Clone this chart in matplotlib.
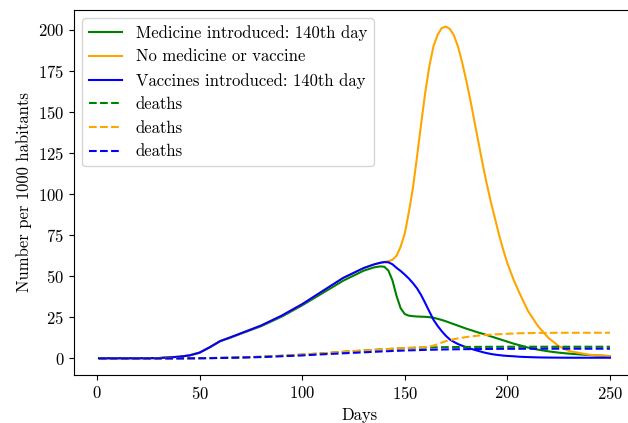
import matplotlib
matplotlib.use("Agg")
import matplotlib.pyplot as plt

plt.rcParams['font.family'] = 'cmr10'
plt.rcParams['mathtext.fontset'] = 'cm'
plt.rcParams['axes.formatter.use_mathtext'] = True
plt.rcParams['font.size'] = 12

days = [1, 10, 20, 30, 40, 45, 50, 55, 60, 65, 70, 80, 90, 100, 110, 120, 130,
        135, 138, 140, 142, 144, 146, 148, 150, 152, 154, 156, 158, 160, 162,
        164, 166, 168, 170, 172, 174, 176, 178, 180, 182, 184, 186, 188, 190,
        192, 194, 196, 198, 200, 203, 206, 210, 215, 220, 225, 230, 240, 250]

# infected, no medicine / vaccine
no_med = [0.1, 0.1, 0.1, 0.2, 1.0, 1.8, 3.5, 6.8, 10.5, 12.8, 15.2, 20, 26, 33,
          41, 49, 55, 57.2, 58.2, 58.7, 59.2, 60, 62.5, 68, 76, 89, 104, 123,
          143, 162, 178, 190, 197, 201, 202, 200.5, 196.5, 189.5, 180, 169,
          157, 144, 131, 118, 106, 95, 85, 75, 66, 58, 48, 39.5, 29, 19.5,
          12.5, 7.5, 4.5, 2.2, 1.4]

# infected, medicine from day 140
medicine = [0.1, 0.1, 0.1, 0.2, 1.0, 1.8, 3.5, 6.8, 10.5, 12.6, 15.0, 19.6,
            25.4, 32.3, 39.8, 47.3, 53.4, 55.4, 56.0, 55.8, 53.5, 47.5, 38,
            30.5, 27, 26, 25.7, 25.5, 25.4, 25.3, 25.1, 24.7, 24.1, 23.4, 22.6,
            21.7, 20.8, 19.9, 19.0, 18.1, 17.3, 16.5, 15.7, 15.0, 14.2, 13.4,
            12.6, 11.8, 11.0, 10.2, 9.0, 8.0, 6.6, 5.3, 4.3, 3.5, 2.9, 2.0, 1.4]

# infected, vaccines from day 140
vaccine = [0.1, 0.1, 0.1, 0.2, 1.0, 1.8, 3.5, 6.8, 10.5, 12.8, 15.2, 20, 26,
           33, 41, 49, 55, 57.2, 58.2, 58.6, 58.5, 57.3, 55.1, 53.2, 51.0,
           48.6, 45.8, 42.6, 38.5, 33.6, 28.5, 23.5, 19.8, 16.6, 13.8, 11.5,
           10.0, 8.7, 7.7, 6.8, 6.0, 5.2, 4.5, 3.8, 3.2, 2.7, 2.3, 2.0, 1.7,
           1.5, 1.3, 1.0, 0.8, 0.6, 0.5, 0.45, 0.4, 0.4, 0.4]

deaths_med = [0, 0, 0, 0, 0, 0.05, 0.1, 0.2, 0.3, 0.45, 0.6, 1.0, 1.6, 2.3,
              3.1, 4.0, 4.8, 5.2, 5.4, 5.6, 5.7, 5.8, 5.9, 6.1, 6.3, 6.35, 6.4,
              6.5, 6.55, 6.6, 6.65, 6.7, 6.75, 6.8, 6.85, 6.88, 6.9, 6.93, 6.95,
              6.97, 7.0, 7.0, 7.02, 7.04, 7.05, 7.06, 7.07, 7.08, 7.09, 7.1,
              7.1, 7.1, 7.1, 7.1, 7.1, 7.1, 7.1, 7.1, 7.1]

deaths_none = [0, 0, 0, 0, 0, 0.05, 0.1, 0.2, 0.3, 0.45, 0.6, 1.0, 1.6, 2.3,
               3.1, 4.0, 4.8, 5.2, 5.4, 5.6, 5.7, 5.9, 6.0, 6.2, 6.3, 6.4,
               6.5, 6.6, 6.7, 6.8, 7.2, 7.8, 8.6, 9.6, 10.5, 11.2, 11.7, 12.2,
               12.6, 13.0, 13.3, 13.6, 13.9, 14.1, 14.3, 14.45, 14.6, 14.7,
               14.85, 15.0, 15.15, 15.3, 15.4, 15.5, 15.55, 15.6, 15.6, 15.6,
               15.6]

deaths_vac = [0, 0, 0, 0, 0, 0.04, 0.08, 0.15, 0.25, 0.35, 0.5, 0.8, 1.3, 1.8,
              2.5, 3.1, 3.7, 4.0, 4.2, 4.3, 4.4, 4.5, 4.6, 4.7, 4.8, 4.9, 4.95,
              5.0, 5.1, 5.2, 5.25, 5.3, 5.35, 5.4, 5.45, 5.5, 5.53, 5.56, 5.6,
              5.63, 5.66, 5.7, 5.72, 5.74, 5.76, 5.78, 5.8, 5.82, 5.84, 5.85,
              5.86, 5.87, 5.88, 5.89, 5.9, 5.9, 5.9, 5.9, 5.9]

fig = plt.figure(figsize=(6.28, 4.23), dpi=100)
ax = fig.add_axes([0.1178, 0.1135, 0.91, 0.863])

ax.plot(days, medicine, color='green', label='Medicine introduced: 140th day')
ax.plot(days, no_med, color='orange', label='No medicine or vaccine')
ax.plot(days, vaccine, color='blue', label='Vaccines introduced: 140th day')
ax.plot(days, deaths_med, color='green', linestyle='--', label='deaths')
ax.plot(days, deaths_none, color='orange', linestyle='--', label='deaths')
ax.plot(days, deaths_vac, color='blue', linestyle='--', label='deaths')

ax.set_xlim(-11.2, 267.3)
ax.spines['right'].set_visible(False)
ax.set_xlabel('Days')
ax.set_ylabel('Number per 1000 habitants')
ax.legend(loc='upper left')

fig.savefig('out.png', dpi=100)
